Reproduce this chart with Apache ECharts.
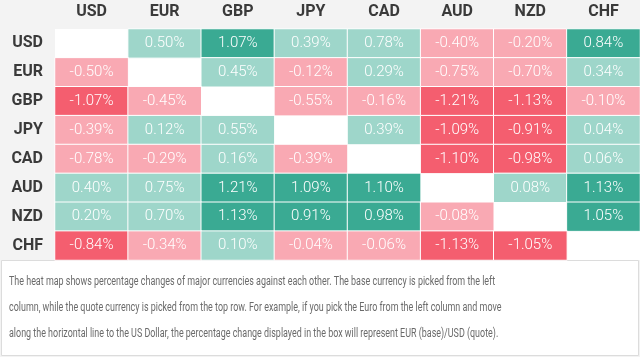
<!DOCTYPE html>
<html><head><meta charset="utf-8">
<script src="https://cdn.jsdelivr.net/npm/echarts@6/dist/echarts.min.js"></script>
<style>html,body{margin:0;padding:0;background:#fff}#c{width:640px;height:357px}</style>
</head><body><div id="c"></div>
<script>
const currencies = ['USD','EUR','GBP','JPY','CAD','AUD','NZD','CHF'];
const rowUSD = [null, 0.50, 1.07, 0.39, 0.78, -0.40, -0.20, 0.84];
const rowEUR = [-0.50, null, 0.45, -0.12, 0.29, -0.75, -0.70, 0.34];
const rowGBP = [-1.07, -0.45, null, -0.55, -0.16, -1.21, -1.13, -0.10];
const rowJPY = [-0.39, 0.12, 0.55, null, 0.39, -1.09, -0.91, 0.04];
const rowCAD = [-0.78, -0.29, 0.16, -0.39, null, -1.10, -0.98, 0.06];
const rowAUD = [0.40, 0.75, 1.21, 1.09, 1.10, null, 0.08, 1.13];
const rowNZD = [0.20, 0.70, 1.13, 0.91, 0.98, -0.08, null, 1.05];
const rowCHF = [-0.84, -0.34, 0.10, -0.04, -0.06, -1.13, -1.05, null];
const noteLines = [
  'The heat map shows percentage changes of major currencies against each other. The base currency is picked from the left',
  'column, while the quote currency is picked from the top row. For example, if you pick the Euro from the left column and move',
  'along the horizontal line to the US Dollar, the percentage change displayed in the box will represent EUR (base)/USD (quote).'
];

const rows = [rowUSD,rowEUR,rowGBP,rowJPY,rowCAD,rowAUD,rowNZD,rowCHF];
const data = [];
rows.forEach((r, yi) => r.forEach((v, xi) => { if (v !== null) data.push([xi, yi, v]); }));

const chart = echarts.init(document.getElementById('c'), null, {renderer:'canvas'});
const graphics = [
  {type:'rect', shape:{x:1.5, y:260.5, width:637, height:95}, style:{fill:'#fff', stroke:'#dcdcdc', lineWidth:1}, z:-1}
];
noteLines.forEach((t, i) => {
  graphics.push({type:'text', x:9, y:282 + i*26, scaleX:0.715, style:{text:t, font:'400 12.5px Roboto', fill:'#6a6a6a', textVerticalAlign:'middle'}});
});
chart.setOption({
  backgroundColor:'#f3f3f3',
  animation:false,
  grid:{left:55, right:0, top:29, height:231, show:true, backgroundColor:'#fff', borderWidth:0},
  xAxis:{type:'category', data:currencies, position:'top',
    axisLine:{show:false}, axisTick:{show:false}, splitArea:{show:false},
    axisLabel:{color:'#3a3a3a', fontFamily:'Roboto', fontWeight:'bold', fontSize:16, margin:9}},
  yAxis:{type:'category', data:currencies, inverse:true,
    axisLine:{show:false}, axisTick:{show:false},
    axisLabel:{color:'#3a3a3a', fontFamily:'Roboto', fontWeight:'bold', fontSize:16, margin:12}},
  visualMap:{show:false, type:'piecewise', dimension:2, pieces:[
    {lt:-0.8, color:'#f45e6f'},
    {gte:-0.8, lt:0, color:'#f9a9b3'},
    {gte:0, lt:0.8, color:'#9ed6ca'},
    {gte:0.8, color:'#3aaa93'}
  ]},
  graphic: graphics,
  series:[{type:'heatmap', data:data,
    itemStyle:{borderColor:'#fff', borderWidth:1},
    label:{show:true, color:'#fff', fontFamily:'Roboto', fontWeight:300, fontSize:15,
      formatter:p => p.value[2].toFixed(2) + '%'},
    emphasis:{disabled:true}
  }]
});
</script></body></html>
